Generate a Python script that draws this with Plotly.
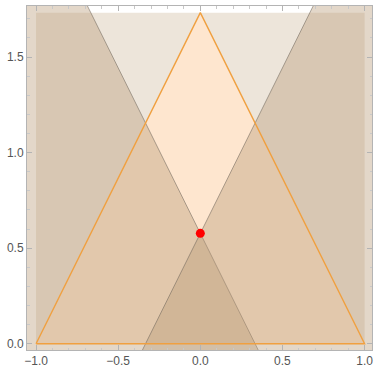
import numpy as np
import plotly.graph_objects as go

# data
tri_x = [-1.0, 1.0, 0.0, -1.0]
tri_y = [0.0, 0.0, np.sqrt(3), 0.0]
rect_x = [-1.0, 1.0, 1.0, -1.0, -1.0]
rect_y = [0.0, 0.0, np.sqrt(3), np.sqrt(3), 0.0]
# half-plane boundaries: line through (x0, 0) with slope m; side = which side is filled
hp_x0 = [1/3, -1/3]
hp_slope = [-np.sqrt(3), np.sqrt(3)]
hp_side = ["left", "right"]
pt_x = [0.0]
pt_y = [1/np.sqrt(3)]

xr = [-1.055, 1.045]
yr = [-0.033, 1.767]

fig = go.Figure()
fig.add_trace(go.Scatter(x=rect_x, y=rect_y, fill="toself", mode="none",
                         fillcolor="#ede5da", hoverinfo="skip"))
fig.add_trace(go.Scatter(x=tri_x, y=tri_y, fill="toself", mode="none",
                         fillcolor="#fee6cf", hoverinfo="skip"))
for x0, m, side in zip(hp_x0, hp_slope, hp_side):
    xb = x0 + yr[0] / m
    xt = x0 + yr[1] / m
    edge = xr[0] if side == "left" else xr[1]
    px = [edge, xb, xt, edge, edge]
    py = [yr[0], yr[0], yr[1], yr[1], yr[0]]
    fig.add_trace(go.Scatter(x=px, y=py, fill="toself", mode="none",
                             fillcolor="rgba(185,155,120,0.4)", hoverinfo="skip"))
    fig.add_trace(go.Scatter(x=[xb, xt], y=[yr[0], yr[1]], mode="lines",
                             line=dict(color="rgba(110,100,90,0.55)", width=1),
                             hoverinfo="skip"))
fig.add_trace(go.Scatter(x=tri_x, y=tri_y, mode="lines",
                         line=dict(color="#f0a040", width=1.4), hoverinfo="skip"))
fig.add_trace(go.Scatter(x=pt_x, y=pt_y, mode="markers",
                         marker=dict(color="#ff0000", size=9), hoverinfo="skip"))

axis_common = dict(showgrid=False, zeroline=False, showline=True, linecolor="#b4b4b4",
                   linewidth=1, mirror="ticks", ticks="inside", ticklen=5,
                   tickcolor="#b4b4b4", tickfont=dict(family="Liberation Sans", size=12, color="#555555"),
                   tickformat=".1f", automargin=False, ticklabelstandoff=0,
                   minor=dict(dtick=0.1, ticks="inside", ticklen=2.5, tickcolor="#c8c8c8"))
fig.update_xaxes(range=xr, tickvals=[-1, -0.5, 0, 0.5, 1], **axis_common)
fig.update_yaxes(range=yr, tickvals=[0, 0.5, 1.0, 1.5], **axis_common)
fig.update_layout(width=375, height=367, showlegend=False,
                  margin=dict(l=27, r=3, t=6, b=17),
                  plot_bgcolor="white", paper_bgcolor="white")
fig.write_html("out.html", config={"displayModeBar": False},
               post_script="document.body.style.margin='0';")
